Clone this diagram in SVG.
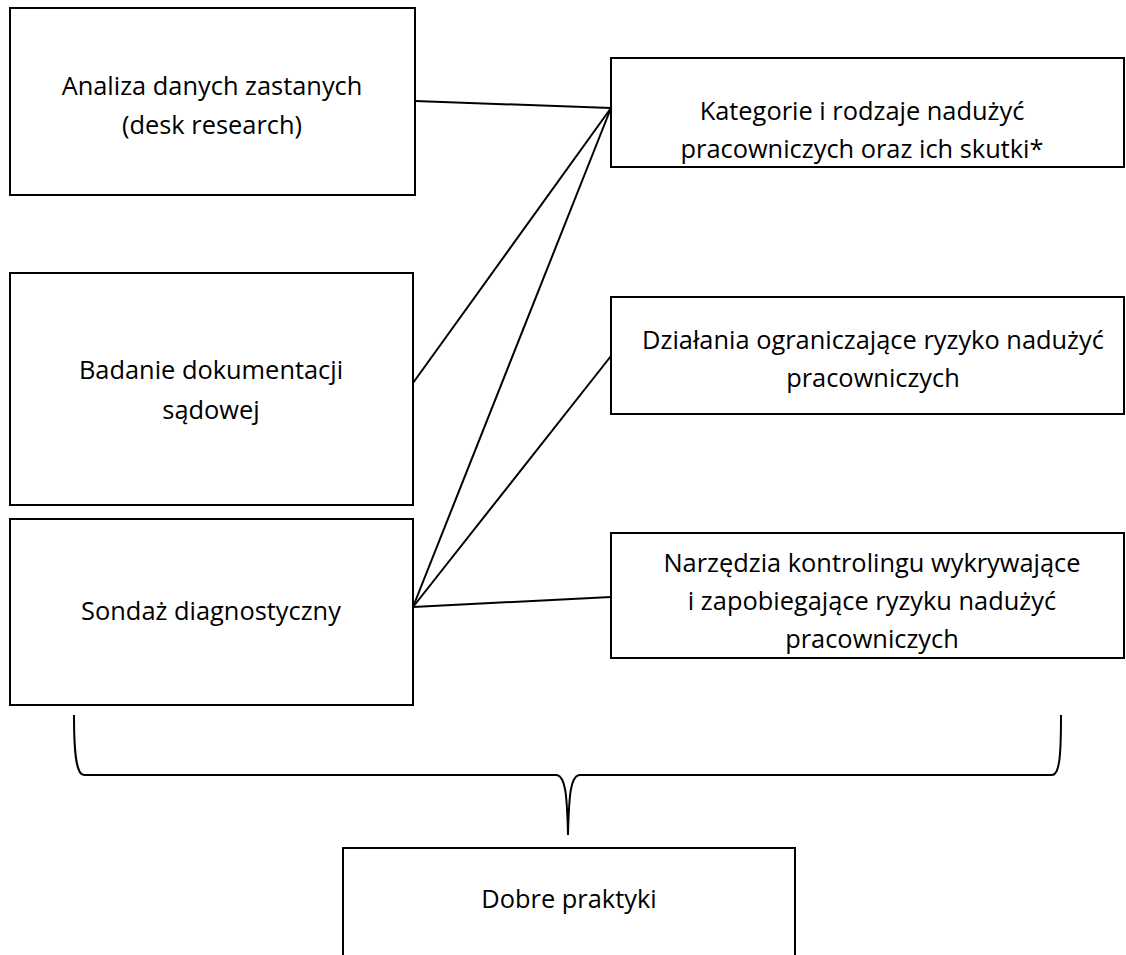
<svg xmlns="http://www.w3.org/2000/svg" width="1126" height="955" viewBox="0 0 1126 955">
  <style>
    .box { fill: #ffffff; stroke: #000000; stroke-width: 2; }
    .lbl { font-family: "Open Sans", "Liberation Sans", sans-serif; font-size: 25.4px; fill: #000000; text-anchor: middle; }
    .wire { fill: none; stroke: #000000; stroke-width: 2; }
  </style>
  <rect width="1126" height="955" fill="#ffffff"/>

  <!-- connectors -->
  <g id="connectors">
    <line class="wire" x1="415" y1="101" x2="611" y2="108"/>
    <line class="wire" x1="413" y1="383" x2="611" y2="108"/>
    <line class="wire" x1="413" y1="607" x2="611" y2="108"/>
    <line class="wire" x1="413" y1="607" x2="611" y2="356"/>
    <line class="wire" x1="413" y1="607" x2="611" y2="597"/>
    <!-- curly brace gathering all results -->
    <path class="wire" d="M74,715 C74,752 76,775 84,775 L557,775 C565,777 567,792 568,835 C569,792 571,777 579,775 L1052,775 C1060,775 1061,752 1061,715"/>
  </g>

  <g id="n-analiza">
    <rect class="box" x="10" y="8" width="405" height="187"/>
    <text class="lbl" x="212" y="95">Analiza danych zastanych</text>
    <text class="lbl" x="212" y="134">(desk research)</text>
  </g>

  <g id="n-badanie">
    <rect class="box" x="10" y="273" width="403" height="232"/>
    <text class="lbl" x="211" y="379">Badanie dokumentacji</text>
    <text class="lbl" x="211" y="419">sądowej</text>
  </g>

  <g id="n-sondaz">
    <rect class="box" x="10" y="519" width="403" height="186"/>
    <text class="lbl" x="211" y="620">Sondaż diagnostyczny</text>
  </g>

  <g id="n-kategorie">
    <rect class="box" x="611" y="58" width="513" height="109"/>
    <text class="lbl" x="862" y="120">Kategorie i rodzaje nadużyć</text>
    <text class="lbl" x="862" y="158">pracowniczych oraz ich skutki*</text>
  </g>

  <g id="n-dzialania">
    <rect class="box" x="611" y="297" width="513" height="117"/>
    <text class="lbl" x="873" y="349">Działania ograniczające ryzyko nadużyć</text>
    <text class="lbl" x="873" y="387">pracowniczych</text>
  </g>

  <g id="n-narzedzia">
    <rect class="box" x="611" y="533" width="513" height="125"/>
    <text class="lbl" x="872" y="572">Narzędzia kontrolingu wykrywające</text>
    <text class="lbl" x="872" y="610">i zapobiegające ryzyku nadużyć</text>
    <text class="lbl" x="872" y="648">pracowniczych</text>
  </g>

  <g id="n-dobre">
    <rect class="box" x="343" y="848" width="452" height="120"/>
    <text class="lbl" x="569" y="908">Dobre praktyki</text>
  </g>
</svg>
